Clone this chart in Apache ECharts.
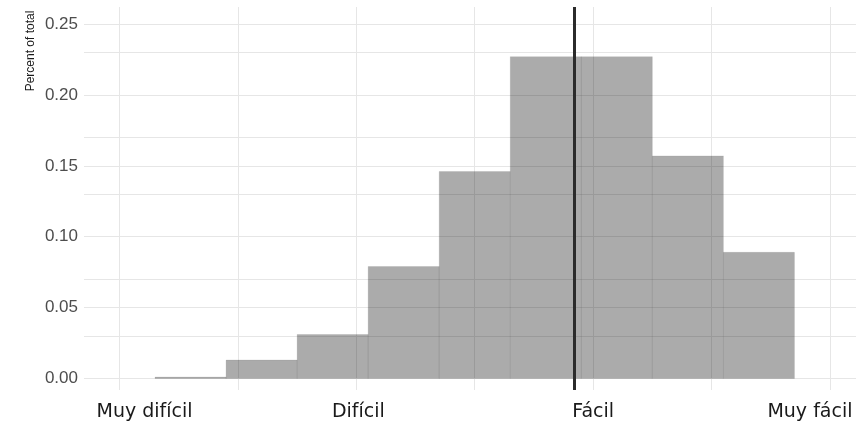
<!DOCTYPE html>
<html>
<head>
<meta charset="utf-8">
<script src="https://cdn.jsdelivr.net/npm/echarts@6/dist/echarts.min.js"></script>
<style>html,body{margin:0;padding:0;background:#fff}#c{width:856px;height:426px}</style>
</head>
<body>
<div id="c"></div>
<script>
// Data
const binStarts = [1.15, 1.45, 1.75, 2.05, 2.35, 2.65, 2.95, 3.25, 3.55];
const binWidth = 0.3;
const percents = [0.001, 0.013, 0.031, 0.079, 0.146, 0.227, 0.227, 0.157, 0.089];
const meanValue = 2.922;
const xTickValues = [1, 2, 3, 4];
const xTickLabels = ['Muy difícil', 'Difícil', 'Fácil', 'Muy fácil'];
const xGridValues = [1, 1.5, 2, 2.5, 3, 3.5, 4];
const yTickValues = [0, 0.05, 0.10, 0.15, 0.20, 0.25];
const yGridValues = [0, 0.025, 0.05, 0.075, 0.10, 0.125, 0.15, 0.175, 0.20, 0.225, 0.25];
const yTitle = 'Percent of total';

const chart = echarts.init(document.getElementById('c'), null, {renderer: 'canvas'});
const gridLineStyle = {color: '#e6e6e6', width: 1, type: 'solid'};
const binData = binStarts.map((s, i) => [s, s + binWidth, percents[i]]);
const labelFont = {fontFamily: 'DejaVu Sans', fontSize: 19, color: '#1a1a1a'};
const richKeys = ['l0', 'l1', 'l2', 'l3'];

chart.setOption({
  animation: false,
  grid: {left: 84, right: 0, top: 7, bottom: 36, containLabel: false, outerBoundsMode: 'none'},
  xAxis: {
    type: 'value', min: 0.85, max: 4.11,
    axisLine: {show: false}, axisTick: {show: false}, splitLine: {show: false},
    axisLabel: Object.assign({
      customValues: xTickValues,
      hideOverlap: false,
      formatter: v => {
        const i = xTickValues.indexOf(Math.round(v * 100) / 100);
        return i < 0 ? '' : '{' + richKeys[i] + '|' + xTickLabels[i] + '}';
      },
      margin: 13,
      rich: {
        l0: Object.assign({padding: [0, 0, 0, 50]}, labelFont),
        l1: Object.assign({padding: [0, 0, 0, 4]}, labelFont),
        l2: Object.assign({padding: [0, 0, 0, 0]}, labelFont),
        l3: Object.assign({padding: [0, 40, 0, 0]}, labelFont)
      }
    }, labelFont)
  },
  yAxis: {
    type: 'value', min: -0.0081, max: 0.262,
    axisLine: {show: false}, axisTick: {show: false}, splitLine: {show: false},
    axisLabel: {
      customValues: yTickValues,
      formatter: v => v.toFixed(2),
      fontFamily: 'Liberation Sans', fontSize: 17, color: '#4d4d4d', margin: 6
    }
  },
  graphic: [{
    type: 'text', x: 31, y: 51, rotation: Math.PI / 2,
    style: {text: yTitle, fontFamily: 'Liberation Sans', fontSize: 12, fill: '#1a1a1a',
      align: 'center', verticalAlign: 'middle'}
  }],
  series: [
    {
      type: 'line', data: [], silent: true, z: 0,
      markLine: {
        silent: true, symbol: 'none', label: {show: false}, animation: false, z: 0,
        lineStyle: gridLineStyle,
        data: xGridValues.map(v => ({xAxis: v})).concat(yGridValues.map(v => ({yAxis: v})))
      }
    },
    {
      type: 'custom', z: 10,
      data: binData,
      encode: {x: [0, 1], y: 2},
      renderItem: (params, api) => {
        const p0 = api.coord([api.value(0), api.value(2)]);
        const p1 = api.coord([api.value(1), 0]);
        return {
          type: 'rect',
          shape: {x: p0[0], y: p0[1], width: p1[0] - p0[0], height: p1[1] - p0[1]},
          style: {fill: 'rgba(0,0,0,0.33)', stroke: 'rgba(110,110,110,0.15)', lineWidth: 1}
        };
      }
    },
    {
      type: 'line', data: [], silent: true, z: 20,
      markLine: {
        silent: true, symbol: 'none', label: {show: false}, animation: false, z: 20,
        lineStyle: {color: '#2b2b2b', width: 3, type: 'solid'},
        data: [{xAxis: meanValue}]
      }
    }
  ]
});
</script>
</body>
</html>
